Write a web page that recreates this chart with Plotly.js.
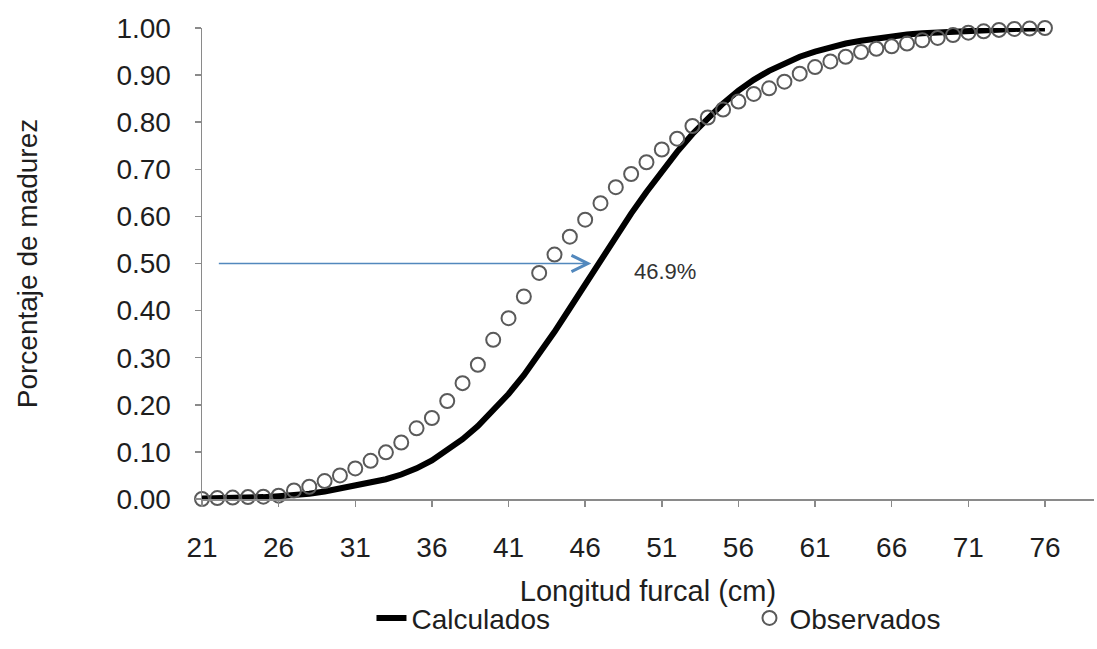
<!DOCTYPE html>
<html>
<head>
<meta charset="utf-8">
<script src="https://cdn.plot.ly/plotly-3.0.1.min.js"></script>
<style>
html,body{margin:0;padding:0;background:#fff;}
#chart{width:1097px;height:649px;}
</style>
</head>
<body>
<div id="chart"></div>
<script>
// Longitud furcal (cm)
const lengths = [21,22,23,24,25,26,27,28,29,30,31,32,33,34,35,36,37,38,39,40,41,42,43,44,45,46,47,48,49,50,51,52,53,54,55,56,57,58,59,60,61,62,63,64,65,66,67,68,69,70,71,72,73,74,75,76];
// Calculados (curva ajustada)
const calculados = [0.001,0.001,0.002,0.003,0.004,0.006,0.008,0.011,0.016,0.022,0.028,0.034,0.042,0.052,0.065,0.082,0.103,0.127,0.155,0.187,0.223,0.263,0.307,0.355,0.405,0.456,0.507,0.557,0.606,0.652,0.696,0.737,0.775,0.809,0.840,0.867,0.890,0.909,0.925,0.939,0.950,0.959,0.967,0.973,0.978,0.982,0.986,0.989,0.991,0.993,0.995,0.996,0.997,0.998,0.999,0.999];
// Observados
const observados = [0.000,0.002,0.003,0.004,0.005,0.007,0.018,0.026,0.038,0.050,0.065,0.081,0.099,0.120,0.150,0.172,0.208,0.246,0.285,0.338,0.384,0.430,0.480,0.519,0.557,0.593,0.628,0.662,0.690,0.715,0.742,0.765,0.792,0.810,0.827,0.844,0.860,0.872,0.886,0.903,0.917,0.929,0.939,0.949,0.956,0.961,0.967,0.974,0.979,0.985,0.990,0.993,0.996,0.998,0.999,1.000];
// Tick values
const xTicks = [21,26,31,36,41,46,51,56,61,66,71,76];
const yTicks = [0,0.1,0.2,0.3,0.4,0.5,0.6,0.7,0.8,0.9,1.0];
// L50 marker
const l50Label = "46.9%";
const l50Level = 0.5;
const arrowFrom = 22;
const arrowTo = 46.4;
const labelX = 51.2;
const labelY = 0.482;

const font = "Liberation Sans, Arial, sans-serif";
const ink = "#1e1e1e";

const traces = [
  {
    x: lengths, y: calculados, name: "Calculados", type: "scatter", mode: "lines",
    line: {color: "#000000", width: 6},
    cliponaxis: false
  },
  {
    x: lengths, y: observados, name: "Observados", type: "scatter", mode: "markers",
    marker: {symbol: "circle-open", size: 14, color: "#5a5a5a", line: {width: 2, color: "#5a5a5a"}},
    cliponaxis: false
  }
];

const layout = {
  width: 1097, height: 649,
  paper_bgcolor: "#ffffff", plot_bgcolor: "#ffffff",
  margin: {l: 202, r: 3, t: 28, b: 150, autoexpand: false},
  font: {family: font, color: ink, size: 28},
  showlegend: true,
  legend: {
    orientation: "h", x: 0.19, xanchor: "left", y: -0.2, yanchor: "top",
    font: {family: font, size: 28, color: ink},
    entrywidth: 333, entrywidthmode: "pixels",
    bgcolor: "rgba(0,0,0,0)"
  },
  xaxis: {
    range: [21, 79.2], tickmode: "array", tickvals: xTicks,
    ticktext: xTicks.map(String),
    showgrid: false, zeroline: false,
    showline: true, linecolor: "#8a8a8a", linewidth: 1.5,
    ticks: "outside", ticklen: 6, tickcolor: "#8a8a8a", tickwidth: 1.5,
    ticklabelstandoff: 17,
    tickfont: {family: font, size: 28, color: ink},
    title: {text: "Longitud furcal (cm)", font: {family: font, size: 29, color: ink}, standoff: 18}
  },
  yaxis: {
    range: [0, 1], tickmode: "array", tickvals: yTicks, tickformat: ".2f",
    showgrid: false, zeroline: false,
    showline: true, linecolor: "#8a8a8a", linewidth: 1.5,
    ticks: "outside", ticklen: 6, tickcolor: "#8a8a8a", tickwidth: 1.5,
    ticklabelstandoff: 18,
    tickfont: {family: font, size: 28, color: ink},
    title: {text: "Porcentaje de madurez", font: {family: font, size: 28, color: ink}, standoff: 70}
  },
  annotations: [
    {
      x: arrowTo, y: l50Level, ax: arrowFrom, ay: l50Level,
      xref: "x", yref: "y", axref: "x", ayref: "y",
      text: "", showarrow: true, arrowhead: 5, arrowsize: 2, arrowwidth: 1.6,
      arrowcolor: "#5288bd"
    },
    {
      x: labelX, y: labelY, xref: "x", yref: "y", text: l50Label, showarrow: false,
      font: {family: font, size: 22, color: "#333333"}
    }
  ]
};

Plotly.newPlot("chart", traces, layout, {displayModeBar: false, staticPlot: true});
</script>
</body>
</html>
